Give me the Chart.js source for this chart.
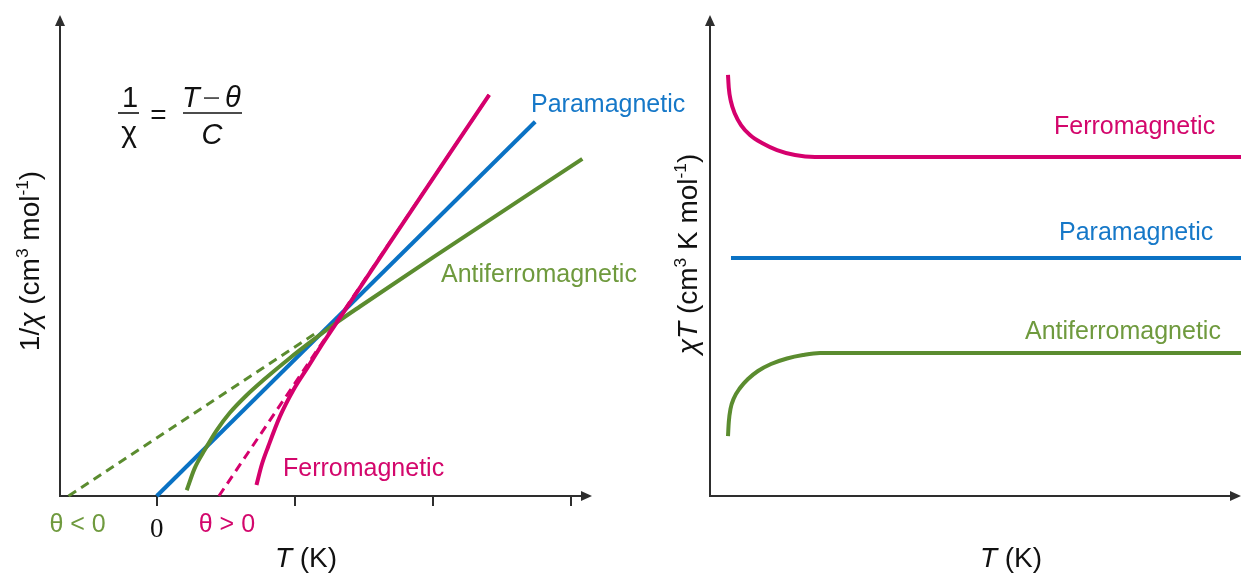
<!DOCTYPE html>
<html>
<head>
<meta charset="utf-8">
<script src="https://cdn.jsdelivr.net/npm/chart.js@4.4.1/dist/chart.umd.min.js"></script>
<style>
  html, body { margin: 0; padding: 0; background: #fff; }
  #wrap { position: relative; width: 1241px; height: 573px; overflow: hidden; }
  canvas { position: absolute; top: 0; }
  #left { left: 0; }
  #right { left: 620px; }
</style>
</head>
<body>
<div id="wrap">
  <canvas id="left" width="700" height="573"></canvas>
  <canvas id="right" width="621" height="573"></canvas>
</div>
<script>
// ---- Left panel: inverse susceptibility 1/chi versus T ----
const tickTemps = [0, 100, 200, 300];

const paraT = [0, 273.9];
const paraInv = [0, 77.8];

const afT   = [21.7, 27.5, 34.8, 43.5, 52.9, 64.5, 76.8, 96.4, 113.0, 130.4, 147.1, 200, 308];
const afInv = [1.2, 5.8, 9.6, 13.7, 17.3, 20.8, 24.0, 28.7, 32.4, 36.1, 39.4, 49.6, 70.1];
const afFitT   = [-63.8, 116];
const afFitInv = [0, 34.0];

const ferT   = [72.2, 76, 80.7, 89.1, 98.8, 109.6, 118.1, 129, 144.7, 170, 240.6];
const ferInv = [2.3, 6.5, 10.3, 16.5, 22.0, 26.9, 30.8, 35.5, 42.3, 53.2, 83.4];
const ferFitT   = [45, 240.6];
const ferFitInv = [0, 83.4];

const thetaNeg = afFitT[0];
const thetaPos = ferFitT[0];

// ---- Right panel: chi*T versus T ----
const rFerT  = [3.39, 3.54, 3.92, 4.71, 5.84, 7.53, 9.79, 12.62, 16.01, 19.77, 30, 100];
const rFerXT = [87.53, 84.82, 82.12, 79.42, 77.13, 75.05, 73.39, 71.93, 70.89, 70.48, 70.48, 70.48];
const rParaT  = [3.95, 100];
const rParaXT = [49.5, 49.5];
const rAfT  = [3.39, 3.54, 3.86, 4.52, 5.65, 7.16, 9.04, 11.49, 14.5, 17.51, 20.72, 30, 100];
const rAfXT = [12.47, 15.38, 18.09, 20.37, 22.45, 24.32, 25.99, 27.44, 28.59, 29.31, 29.73, 29.73, 29.73];

const seriesNames = ['Ferromagnetic', 'Paramagnetic', 'Antiferromagnetic'];

// ---- styling ----
const FONT = '"Liberation Sans", Arial, sans-serif';
const SERIF = '"Liberation Serif", "Times New Roman", serif';
const MAGENTA = '#d5006d', BLUE = '#0a72c4', GREEN = '#5b8c2f';
const MAGENTA_TXT = '#d3076c', BLUE_TXT = '#1678c8', GREEN_TXT = '#6f9a3e';
const AXIS = '#2e2e2e';
const LABEL = 25;

const pts = (xs, ys) => xs.map((v, i) => ({ x: v, y: ys[i] }));

// draws a run of text pieces (italic / superscript) on one baseline
function segFont(s, size) {
  return (s.it ? 'italic ' : '') + (s.sup ? size * 0.62 : size) + 'px ' + (s.family || FONT);
}
function richWidth(ctx, segs, size) {
  let w = 0;
  segs.forEach(s => { ctx.font = segFont(s, size); w += ctx.measureText(s.t).width; });
  return w;
}
function drawRich(ctx, segs, x, y, size, align, color) {
  const w = richWidth(ctx, segs, size);
  let cx = align === 'center' ? x - w / 2 : (align === 'right' ? x - w : x);
  ctx.textAlign = 'left';
  ctx.textBaseline = 'alphabetic';
  ctx.fillStyle = color;
  segs.forEach(s => {
    ctx.font = segFont(s, size);
    ctx.fillText(s.t, cx, s.sup ? y - size * 0.38 : y);
    cx += ctx.measureText(s.t).width;
  });
}

// axis lines with arrow heads and tick marks
const frame = {
  id: 'frame',
  beforeDatasetsDraw(chart, args, o) {
    const { ctx, chartArea: a, scales: { x, y } } = chart;
    const x0 = x.getPixelForValue(o.originX);
    const y0 = y.getPixelForValue(0);
    const xEnd = a.right;
    ctx.save();
    ctx.strokeStyle = AXIS; ctx.fillStyle = AXIS; ctx.lineWidth = 2;
    ctx.beginPath(); ctx.moveTo(x0, y0 + 1); ctx.lineTo(x0, a.top + 8); ctx.stroke();
    ctx.beginPath(); ctx.moveTo(x0 - 1, y0); ctx.lineTo(xEnd - 8, y0); ctx.stroke();
    ctx.beginPath(); ctx.moveTo(x0, a.top); ctx.lineTo(x0 - 5, a.top + 11); ctx.lineTo(x0 + 5, a.top + 11); ctx.closePath(); ctx.fill();
    ctx.beginPath(); ctx.moveTo(xEnd, y0); ctx.lineTo(xEnd - 11, y0 - 5); ctx.lineTo(xEnd - 11, y0 + 5); ctx.closePath(); ctx.fill();
    (o.ticks || []).forEach(v => {
      const px = Math.round(x.getPixelForValue(v));
      ctx.beginPath(); ctx.moveTo(px, y0); ctx.lineTo(px, y0 + 10); ctx.stroke();
    });
    ctx.restore();
  }
};

// titles, series names and the formula
const notes = {
  id: 'notes',
  afterDraw(chart, args, o) {
    const ctx = chart.ctx;
    ctx.save();
    (o.items || []).forEach(it => {
      if (it.rotate) {
        ctx.save();
        ctx.translate(it.x, it.y);
        ctx.rotate(-Math.PI / 2);
        drawRich(ctx, it.segs, 0, it.size * 0.36, it.size, 'center', it.color);
        ctx.restore();
      } else {
        drawRich(ctx, it.segs, it.x, it.y, it.size, it.align || 'left', it.color);
      }
    });
    (o.bars || []).forEach(b => {
      ctx.strokeStyle = '#111'; ctx.lineWidth = 1.6;
      ctx.beginPath(); ctx.moveTo(b[0], b[2]); ctx.lineTo(b[1], b[2]); ctx.stroke();
    });
    if (o.thetaLabels) {
      const xs = chart.scales.x;
      o.thetaLabels.forEach(t => {
        drawRich(ctx, t.segs, xs.getPixelForValue(t.value) + (t.dx || 0), t.y, t.size, 'center', t.color);
      });
    }
    ctx.restore();
  }
};

const lineDefaults = { pointRadius: 0, fill: false, clip: false, borderCapStyle: 'butt', borderJoinStyle: 'round' };
const smooth = { cubicInterpolationMode: 'monotone' };

new Chart(document.getElementById('left'), {
  type: 'line',
  data: {
    datasets: [
      Object.assign({ data: pts(ferT, ferInv), borderColor: MAGENTA, borderWidth: 4, order: 1 }, smooth, lineDefaults),
      Object.assign({ data: pts(ferFitT, ferFitInv), borderColor: MAGENTA, borderWidth: 3, borderDash: [9, 6], tension: 0, order: 2 }, lineDefaults),
      Object.assign({ data: pts(afT, afInv), borderColor: GREEN, borderWidth: 4, order: 3 }, smooth, lineDefaults),
      Object.assign({ data: pts(paraT, paraInv), borderColor: BLUE, borderWidth: 4, tension: 0, order: 4 }, lineDefaults),
      Object.assign({ data: pts(afFitT, afFitInv), borderColor: GREEN, borderWidth: 3, borderDash: [9, 6], tension: 0, order: 5 }, lineDefaults)
    ]
  },
  options: {
    responsive: false, animation: false, events: [],
    layout: { padding: { left: 60, right: 108, top: 15, bottom: 77 } },
    scales: {
      x: { type: 'linear', display: false, min: -70, max: 315 },
      y: { type: 'linear', display: false, min: 0, max: 100 }
    },
    plugins: {
      legend: { display: false }, tooltip: { enabled: false },
      frame: { originX: -70, ticks: tickTemps },
      notes: {
        items: [
          { segs: [{ t: '1/' }, { t: 'χ', it: true }, { t: ' (cm' }, { t: '3', sup: true }, { t: ' mol' }, { t: '-1', sup: true }, { t: ')' }], x: 29, y: 261, size: 28, color: '#111', rotate: true },
          { segs: [{ t: 'T', it: true }, { t: ' (K)' }], x: 306, y: 567, size: 28, align: 'center', color: '#111' },
          { segs: [{ t: seriesNames[1] }], x: 531, y: 112, size: LABEL, color: BLUE_TXT },
          { segs: [{ t: seriesNames[2] }], x: 441, y: 282, size: LABEL, color: GREEN_TXT },
          { segs: [{ t: seriesNames[0] }], x: 283, y: 476, size: LABEL, color: MAGENTA_TXT },
          { segs: [{ t: '1' }], x: 130, y: 107, size: 29, align: 'center', color: '#111' },
          { segs: [{ t: 'χ' }], x: 129, y: 142, size: 30, align: 'center', color: '#111' },
          { segs: [{ t: '=' }], x: 158.5, y: 124, size: 28, align: 'center', color: '#111' },
          { segs: [{ t: 'T', it: true }], x: 182, y: 107, size: 29, color: '#111' },
          { segs: [{ t: '–' }], x: 204, y: 105, size: 27, color: '#555' },
          { segs: [{ t: 'θ', it: true }], x: 225, y: 107, size: 29, color: '#111' },
          { segs: [{ t: 'C', it: true }], x: 212, y: 144, size: 29, align: 'center', color: '#111' }
        ],
        bars: [[118, 139, 113], [183, 242, 113]],
        thetaLabels: [
          { value: thetaNeg, dx: 9, segs: [{ t: 'θ < 0' }], y: 532, size: 25, color: GREEN_TXT },
          { value: 0, segs: [{ t: '0', family: SERIF }], y: 537, size: 27, color: '#111' },
          { value: thetaPos, dx: 8, segs: [{ t: 'θ > 0' }], y: 532, size: 25, color: MAGENTA_TXT }
        ]
      }
    }
  },
  plugins: [frame, notes]
});

new Chart(document.getElementById('right'), {
  type: 'line',
  data: {
    datasets: [
      Object.assign({ data: pts(rFerT, rFerXT), borderColor: MAGENTA, borderWidth: 4 }, smooth, lineDefaults),
      Object.assign({ data: pts(rParaT, rParaXT), borderColor: BLUE, borderWidth: 4, tension: 0 }, lineDefaults),
      Object.assign({ data: pts(rAfT, rAfXT), borderColor: GREEN, borderWidth: 4 }, smooth, lineDefaults)
    ]
  },
  options: {
    responsive: false, animation: false, events: [],
    layout: { padding: { left: 90, right: 0, top: 15, bottom: 77 } },
    scales: {
      x: { type: 'linear', display: false, min: 0, max: 100 },
      y: { type: 'linear', display: false, min: 0, max: 100 }
    },
    plugins: {
      legend: { display: false }, tooltip: { enabled: false },
      frame: { originX: 0, ticks: [] },
      notes: {
        items: [
          { segs: [{ t: 'χ', it: true }, { t: 'T', it: true }, { t: ' (cm' }, { t: '3', sup: true }, { t: ' K mol' }, { t: '-1', sup: true }, { t: ')' }], x: 67, y: 254, size: 28, color: '#111', rotate: true },
          { segs: [{ t: 'T', it: true }, { t: ' (K)' }], x: 391, y: 567, size: 28, align: 'center', color: '#111' },
          { segs: [{ t: seriesNames[0] }], x: 434, y: 134, size: LABEL, color: MAGENTA_TXT },
          { segs: [{ t: seriesNames[1] }], x: 439, y: 240, size: LABEL, color: BLUE_TXT },
          { segs: [{ t: seriesNames[2] }], x: 405, y: 339, size: LABEL, color: GREEN_TXT }
        ]
      }
    }
  },
  plugins: [frame, notes]
});
</script>
</body>
</html>
